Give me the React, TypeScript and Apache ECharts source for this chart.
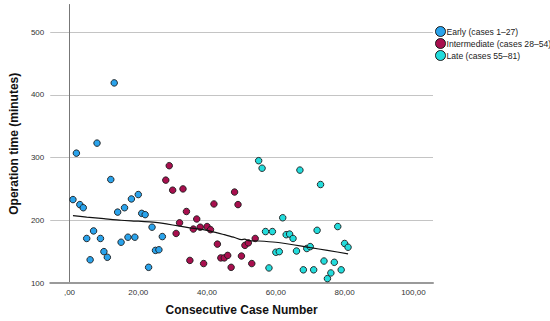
import React, { useEffect, useRef } from "react";
import * as echarts from "echarts";

const earlyStart = 1;
const earlyY = [233, 307, 225, 220, 171, 137, 183, 323, 171, 150, 141, 265, 419, 213, 165, 220, 173, 234, 173, 241, 211, 209, 125, 189, 152, 153, 174];
const midStart = 28;
const midY = [264, 287, 248, 179, 196, 250, 214, 136, 186, 202, 189, 131, 190, 185, 226, 162, 140, 140, 144, 125, 245, 225, 143, 160, 164, 131, 171];
const lateStart = 55;
const lateY = [295, 283, 182, 124, 182, 149, 150, 204, 177, 178, 171, 151, 280, 121, 155, 158, 121, 184, 257, 135, 107, 116, 133, 190, 121, 163, 157];

const fitX = [1, 5, 10, 15, 20, 25, 30, 35, 40, 43, 45, 48, 50, 51, 52, 55, 60, 65, 70, 75, 81];
const fitY = [207.5, 205, 202.5, 200, 198.5, 196.5, 192.5, 188, 184, 180, 177, 172.5, 169, 170, 167.5, 167, 165, 161, 156.5, 152, 146.5];

const seriesNames = ["Early (cases 1\u201327)", "Intermediate (cases 28\u201354)", "Late (cases 55\u201381)"];
const seriesColors = ["#2aa3ec", "#a80f4e", "#22dcdc"];

const toPoints = (start: number, ys: number[]) => ys.map((y, i) => [start + i, y]);

export default function App() {
  const ref = useRef<HTMLDivElement>(null);
  useEffect(() => {
    if (!ref.current) return;
    const chart = echarts.init(ref.current, undefined, { renderer: "svg" });
    const font = "Arial, 'Liberation Sans', sans-serif";
    const groups = [toPoints(earlyStart, earlyY), toPoints(midStart, midY), toPoints(lateStart, lateY)];
    chart.setOption({
      animation: false,
      backgroundColor: "#ffffff",
      textStyle: { fontFamily: font },
      grid: { left: 43, right: 117, top: 4.5, bottom: 36 },
      legend: {
        data: seriesNames,
        orient: "vertical",
        left: 435,
        top: 26,
        padding: 0,
        itemWidth: 10,
        itemHeight: 10,
        itemGap: 1,
        icon: "circle",
        itemStyle: { borderWidth: 1, borderColor: "#1a1a1a" },
        textStyle: { fontSize: 8.6, color: "#222", fontFamily: font, padding: [0, 0, 0, -4] },
      },
      xAxis: {
        type: "value",
        min: -5.6,
        max: 105.7,
        splitNumber: 5,
        minInterval: 20,
        maxInterval: 20,
        name: "Consecutive Case Number",
        nameLocation: "middle",
        nameGap: 21,
        nameTextStyle: { fontSize: 12, fontWeight: "bold", color: "#111", fontFamily: font },
        axisLine: { show: true, lineStyle: { color: "#9a9a9a", width: 2 } },
        axisTick: { show: false },
        splitLine: { show: false },
        axisLabel: {
          showMinLabel: false,
          showMaxLabel: false,
          fontSize: 8,
          color: "#333",
          margin: 5,
          formatter: (v: number) => (Math.abs(v) < 1e-9 ? ",00" : v.toFixed(2).replace(".", ",")),
        },
      },
      yAxis: {
        type: "value",
        min: 100,
        max: 544,
        interval: 100,
        name: "Operation time (minutes)",
        nameLocation: "middle",
        nameGap: 25,
        nameTextStyle: { fontSize: 12, fontWeight: "bold", color: "#111", fontFamily: font },
        axisLine: { show: true, lineStyle: { color: "#777", width: 1 } },
        axisTick: { show: false },
        splitLine: { show: true, showMinLine: false, showMaxLine: false, lineStyle: { color: "#c4c4c4", width: 1.2 } },
        axisLabel: {
          showMaxLabel: false,
          fontSize: 8,
          color: "#333",
          margin: 6,
          formatter: (v: number) => (v % 100 === 0 ? String(v) : ""),
        },
      },
      series: [
        ...groups.map((data, i) => ({
          name: seriesNames[i],
          type: "scatter",
          data,
          symbol: "circle",
          symbolSize: 6.5,
          itemStyle: { color: seriesColors[i], borderColor: "#1a1a1a", borderWidth: 0.9, opacity: 1 },
          z: 3,
        })),
        {
          name: "fit",
          type: "line",
          data: fitX.map((x, i) => [x, fitY[i]]),
          showSymbol: false,
          symbol: "none",
          smooth: 0.2,
          lineStyle: { color: "#111", width: 1.2 },
          z: 4,
          silent: true,
        },
      ],
    });
    return () => chart.dispose();
  }, []);
  return <div ref={ref} style={{ position: "absolute", left: 0, top: 0, width: 550, height: 321 }} />;
}
